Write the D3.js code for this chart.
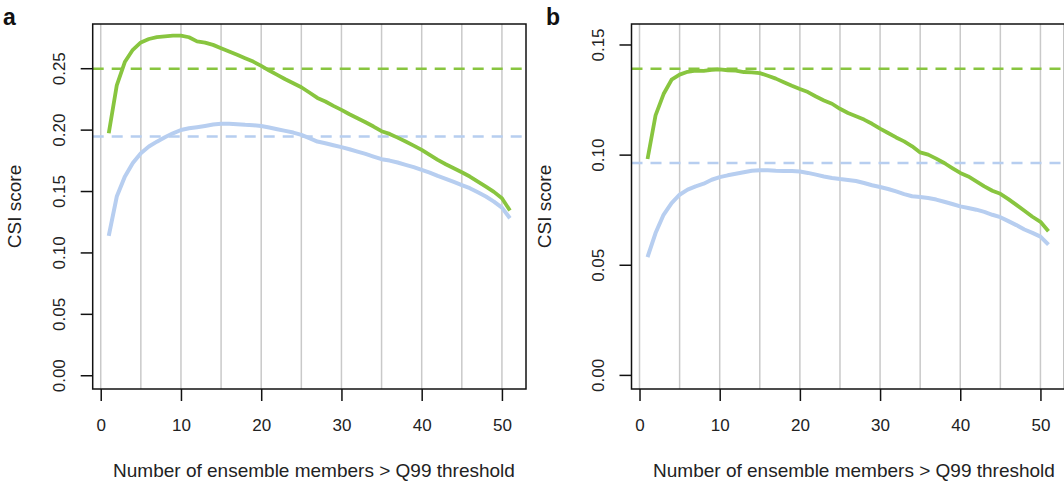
<!DOCTYPE html>
<html>
<head>
<meta charset="utf-8">
<script src="https://cdn.jsdelivr.net/npm/d3@7"></script>
<style>
  body { margin: 0; background: #fff; }
  svg { display: block; font-family: "Liberation Sans", Arial, sans-serif; }
</style>
</head>
<body>
<div id="chart"></div>
<script>
// number of ensemble members (x)
var members = d3.range(1, 52);

// panel a
var aGreen = [0.197, 0.236, 0.255, 0.265, 0.271, 0.2738, 0.2753, 0.276, 0.2765, 0.2766,
    0.2752, 0.2718, 0.2708, 0.269, 0.2663, 0.2636, 0.2609, 0.2581, 0.2554, 0.2519,
    0.2481, 0.2446, 0.241, 0.2378, 0.2345, 0.2302, 0.2258, 0.2229, 0.2193, 0.2161,
    0.2125, 0.2093, 0.206, 0.2025, 0.1987, 0.1965, 0.1935, 0.1903, 0.187, 0.1835,
    0.1794, 0.1754, 0.1718, 0.1686, 0.1653, 0.1618, 0.1577, 0.1536, 0.1493, 0.1441, 0.1341];
var aBlue = [0.1134, 0.1455, 0.1617, 0.1728, 0.1808, 0.1862, 0.1902, 0.1938, 0.197, 0.1997,
    0.2011, 0.202, 0.203, 0.2041, 0.2047, 0.2047, 0.2044, 0.2039, 0.2036, 0.203,
    0.2017, 0.2003, 0.199, 0.1976, 0.1957, 0.193, 0.1903, 0.1889, 0.1873, 0.1857,
    0.184, 0.1821, 0.1802, 0.178, 0.1759, 0.1748, 0.1732, 0.1713, 0.1694, 0.1672,
    0.165, 0.1623, 0.1599, 0.1574, 0.1548, 0.1523, 0.149, 0.1455, 0.1414, 0.1365, 0.1278];
var aRefs = [0.2495, 0.1943];
var aYTicks = [0, 0.05, 0.10, 0.15, 0.20, 0.25];

// panel b
var bGreen = [0.098, 0.1178, 0.1275, 0.134, 0.1363, 0.1376, 0.1381, 0.138, 0.1385, 0.1387,
    0.1383, 0.1381, 0.1375, 0.1373, 0.137, 0.1358, 0.1345, 0.1329, 0.1313, 0.1298,
    0.1284, 0.1264, 0.1246, 0.1231, 0.1208, 0.1189, 0.1174, 0.1159, 0.114, 0.1118,
    0.1098, 0.1078, 0.106, 0.1038, 0.101, 0.1, 0.0982, 0.0962, 0.0939, 0.0917,
    0.0901, 0.0879, 0.0856, 0.0836, 0.0822, 0.0798, 0.0772, 0.0745, 0.0718, 0.0695, 0.0652];
var bBlue = [0.0535, 0.0644, 0.0727, 0.078, 0.0818, 0.0841, 0.0856, 0.0868, 0.0886, 0.0898,
    0.0906, 0.0913, 0.092, 0.0927, 0.0929, 0.0929, 0.0927, 0.0926, 0.0926, 0.0923,
    0.0917, 0.0909, 0.0901, 0.0894, 0.0889, 0.0885, 0.088, 0.0871, 0.0861, 0.0853,
    0.0844, 0.0833, 0.0821, 0.0811, 0.0808, 0.0803, 0.0796, 0.0786, 0.0776, 0.0765,
    0.0758, 0.075, 0.074, 0.0727, 0.0716, 0.0698, 0.068, 0.066, 0.0645, 0.0628, 0.0591];
var bRefs = [0.139, 0.0962];
var bYTicks = [0, 0.05, 0.10, 0.15];

var xTicks = [0, 10, 20, 30, 40, 50];
var gridX = [0, 5, 10, 15, 20, 25, 30, 35, 40, 45, 50];

var GREEN = '#88c53f';
var BLUE = '#b7cef0';
var W = 1064, H = 481;

var svg = d3.select('#chart')
    .append('svg')
    .attr('width', W)
    .attr('height', H);

function panel(opts) {
    var left = opts.left, right = opts.right, top = 24, bottom = 389;
    var g = svg.append('g');

    var x = d3.scaleLinear().domain([-1, 53]).range([left, right]);
    var y = d3.scaleLinear().domain(opts.ydom).range([bottom, top]);

    // vertical grid
    g.selectAll('.grid')
        .data(gridX)
        .enter()
        .append('line')
        .attr('x1', (d) => x(d)).attr('x2', (d) => x(d))
        .attr('y1', top).attr('y2', bottom)
        .attr('stroke', '#c9c9c9')
        .attr('stroke-width', 1.5);

    // reference lines
    g.selectAll('.ref')
        .data(opts.refs)
        .enter()
        .append('line')
        .attr('x1', left).attr('x2', right)
        .attr('y1', (d) => y(d)).attr('y2', (d) => y(d))
        .attr('stroke', (d, i) => i === 0 ? GREEN : BLUE)
        .attr('stroke-width', 2.5)
        .attr('stroke-dasharray', '11 8');

    var line = d3.line()
        .x((d, i) => x(members[i]))
        .y((d) => y(d));

    g.append('path')
        .datum(opts.blue)
        .attr('d', line)
        .attr('fill', 'none')
        .attr('stroke', BLUE)
        .attr('stroke-width', 4)
        .attr('stroke-linejoin', 'round');

    g.append('path')
        .datum(opts.green)
        .attr('d', line)
        .attr('fill', 'none')
        .attr('stroke', GREEN)
        .attr('stroke-width', 3.8)
        .attr('stroke-linejoin', 'round');

    // box
    g.append('rect')
        .attr('x', left).attr('y', top)
        .attr('width', right - left).attr('height', bottom - top)
        .attr('fill', 'none')
        .attr('stroke', '#111')
        .attr('stroke-width', 1.5);

    // x axis
    var xa = g.append('g')
        .attr('transform', 'translate(0,' + bottom + ')')
        .call(d3.axisBottom(x).tickValues(xTicks).tickSize(12).tickPadding(18).tickFormat(d3.format('d')));
    xa.select('.domain').remove();
    xa.selectAll('line').attr('stroke', '#111').attr('stroke-width', 1.5);
    xa.selectAll('text').style('font-size', '17px').attr('fill', '#222')
        .style('font-family', '"Liberation Sans", Arial, sans-serif');

    // y axis
    var ya = g.append('g')
        .attr('transform', 'translate(' + left + ',0)')
        .call(d3.axisLeft(y).tickValues(opts.yticks).tickSize(12).tickFormat(d3.format('.2f')));
    ya.select('.domain').remove();
    ya.selectAll('line').attr('stroke', '#111').attr('stroke-width', 1.5);
    ya.selectAll('text')
        .attr('transform', 'rotate(-90)')
        .attr('x', 0).attr('y', -28).attr('dy', 0)
        .style('text-anchor', 'middle')
        .style('font-size', '17px').attr('fill', '#222')
        .style('font-family', '"Liberation Sans", Arial, sans-serif');

    // axis titles
    svg.append('text')
        .attr('transform', 'translate(' + (opts.ylabX) + ',' + ((top + bottom) / 2) + ') rotate(-90)')
        .attr('text-anchor', 'middle')
        .style('font-size', '19px')
        .attr('fill', '#222')
        .text('CSI score');

    svg.append('text')
        .attr('x', opts.xlabX)
        .attr('y', 477)
        .attr('text-anchor', 'middle')
        .style('font-size', '19px')
        .attr('fill', '#222')
        .text('Number of ensemble members > Q99 threshold');

    svg.append('text')
        .attr('x', opts.letterX)
        .attr('y', 25)
        .style('font-size', '23px')
        .style('font-weight', 'bold')
        .attr('fill', '#111')
        .text(opts.letter);
}

panel({ left: 92.7, right: 526, ydom: [-0.0112, 0.286], refs: aRefs, green: aGreen, blue: aBlue,
    yticks: aYTicks, ylabX: 21, xlabX: 314, letterX: 3, letter: 'a' });
panel({ left: 631.5, right: 1064.5, ydom: [-0.0064, 0.1593], refs: bRefs, green: bGreen, blue: bBlue,
    yticks: bYTicks, ylabX: 551, xlabX: 854, letterX: 546, letter: 'b' });
</script>
</body>
</html>
